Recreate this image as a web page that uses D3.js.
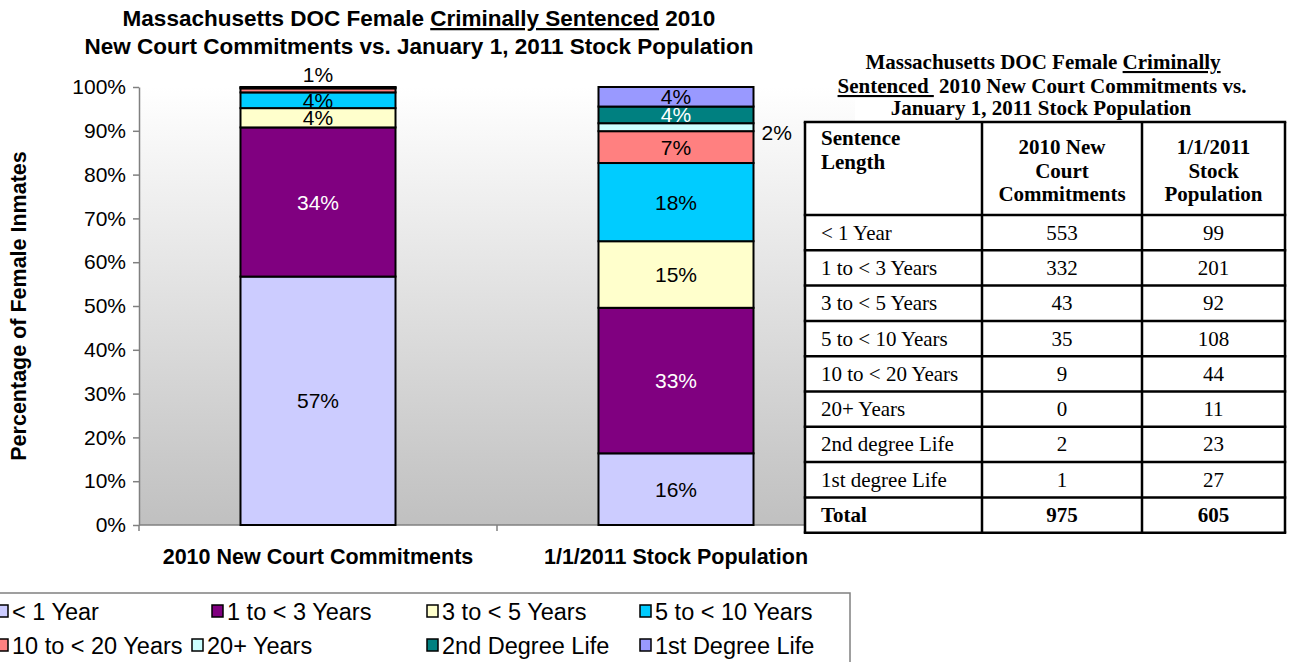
<!DOCTYPE html>
<html>
<head>
<meta charset="utf-8">
<script src="https://cdn.jsdelivr.net/npm/d3@7"></script>
<style>
    body { margin: 0; background: #fff; }
    svg { display: block; }
    text { font-family: Arial, "Liberation Sans", sans-serif; }
    .serif { font-family: "Times New Roman", "Liberation Serif", serif; }
</style>
</head>
<body>
<div id="chart"></div>
<script>
// sentence length groups (legend names / table row names)
var groups = ["< 1 Year", "1 to < 3 Years", "3 to < 5 Years", "5 to < 10 Years",
    "10 to < 20 Years", "20+ Years", "2nd Degree Life", "1st Degree Life"];
var tableRowNames = ["< 1 Year", "1 to < 3 Years", "3 to < 5 Years", "5 to < 10 Years",
    "10 to < 20 Years", "20+ Years", "2nd degree Life", "1st degree Life"];
var barNames = ["2010 New Court Commitments", "1/1/2011 Stock Population"];

// counts
var newCommitments = [553, 332, 43, 35, 9, 0, 2, 1];
var stockPopulation = [99, 201, 92, 108, 44, 11, 23, 27];

var groupColors = ["#CCCCFF", "#800080", "#FFFFCC", "#00CCFF",
    "#FF8080", "#CCFFFF", "#008080", "#9999FF"];
var labelColors = ["#000", "#fff", "#000", "#000", "#000", "#000", "#fff", "#000"];

var yTicks = [0, 0.1, 0.2, 0.3, 0.4, 0.5, 0.6, 0.7, 0.8, 0.9, 1];

var width = 1289, height = 662;
var plot = {left: 139, right: 855, top: 87, bottom: 525};

var svg = d3.select("#chart").append("svg")
    .attr("width", width)
    .attr("height", height);

// background gradient of the plot area
var defs = svg.append("defs");
var grad = defs.append("linearGradient")
    .attr("id", "bg")
    .attr("x1", 0).attr("y1", 0).attr("x2", 0).attr("y2", 1);
grad.append("stop").attr("offset", "0%").attr("stop-color", "#ffffff");
grad.append("stop").attr("offset", "100%").attr("stop-color", "#c0c0c0");

svg.append("rect")
    .attr("x", plot.left)
    .attr("y", plot.top)
    .attr("width", plot.right - plot.left)
    .attr("height", plot.bottom - plot.top)
    .style("fill", "url(#bg)");

var x = d3.scaleBand().domain(barNames).range([plot.left, plot.right]).padding(0);
var y = d3.scaleLinear().domain([0, 1]).range([plot.bottom, plot.top]);
var barW = x.bandwidth() * 0.433;

// build stacked series
var series = [newCommitments, stockPopulation].map(function(counts, bi) {
    var total = d3.sum(counts);
    var acc = 0;
    return counts.map(function(c, gi) {
        var s = {bar: barNames[bi], bi: bi, gi: gi, count: c, y0: acc / total};
        acc += c;
        s.y1 = acc / total;
        s.pct = Math.round(c / total * 100);
        return s;
    });
});
var segs = d3.merge(series);

// y axis
var yAxis = svg.append("g")
    .attr("transform", "translate(" + plot.left + ",0)")
    .call(d3.axisLeft(y).tickValues(yTicks).tickFormat(d3.format(".0%")).tickSize(6).tickSizeOuter(0).tickPadding(7));
yAxis.select(".domain").attr("stroke", "#808080").attr("stroke-width", 1.5);
yAxis.selectAll(".tick line").attr("stroke", "#808080").attr("stroke-width", 1.5);
yAxis.selectAll(".tick text")
    .style("font-family", "Arial, 'Liberation Sans', sans-serif")
    .style("font-size", "21px")
    .attr("fill", "#000");

// x axis
var xAxis = svg.append("g")
    .attr("transform", "translate(0," + plot.bottom + ")");
xAxis.append("line")
    .attr("x1", plot.left).attr("x2", plot.right)
    .attr("stroke", "#808080").attr("stroke-width", 1.5);
xAxis.selectAll(".xtick")
    .data([plot.left, x(barNames[1]), plot.right])
    .enter().append("line")
    .attr("x1", function(d) { return d; })
    .attr("x2", function(d) { return d; })
    .attr("y1", 0).attr("y2", 6)
    .attr("stroke", "#808080").attr("stroke-width", 1.5);
xAxis.selectAll(".xlabel")
    .data(barNames)
    .enter().append("text")
    .attr("x", function(d) { return x(d) + x.bandwidth() / 2; })
    .attr("y", 39)
    .attr("text-anchor", "middle")
    .style("font-weight", "bold")
    .style("font-size", "21.5px")
    .text(function(d) { return d; });

// bars
svg.append("g").selectAll("rect")
    .data(segs.filter(function(d) { return d.count > 0; }))
    .enter().append("rect")
    .attr("x", function(d) { return x(d.bar) + (x.bandwidth() - barW) / 2; })
    .attr("y", function(d) { return y(d.y1); })
    .attr("width", barW)
    .attr("height", function(d) { return y(d.y0) - y(d.y1); })
    .style("fill", function(d) { return groupColors[d.gi]; })
    .style("stroke", "#000")
    .style("stroke-width", 2);

// value labels
var labelled = segs.filter(function(d) { return d.pct > 0; });
svg.append("g").selectAll("text")
    .data(labelled)
    .enter().append("text")
    .attr("x", function(d) {
        var cx = x(d.bar) + x.bandwidth() / 2;
        if (d.bi == 1 && d.gi == 5) return cx + barW / 2 + 8;
        return cx;
    })
    .attr("y", function(d) {
        if (d.bi == 0 && d.gi == 4) return y(1) - 5;
        if (d.bi == 1 && d.gi == 5) return y((d.y0 + d.y1) / 2) + 13;
        return y((d.y0 + d.y1) / 2) + 7.5;
    })
    .attr("text-anchor", function(d) { return (d.bi == 1 && d.gi == 5) ? "start" : "middle"; })
    .style("font-size", "21px")
    .style("fill", function(d) {
        if ((d.bi == 0 && d.gi == 4) || (d.bi == 1 && d.gi == 5)) return "#000";
        return labelColors[d.gi];
    })
    .text(function(d) { return d.pct + "%"; });

// chart title
var title1 = svg.append("text")
    .attr("x", 419).attr("y", 26)
    .attr("text-anchor", "middle")
    .style("font-weight", "bold")
    .style("font-size", "22.5px");
title1.append("tspan").text("Massachusetts DOC Female ");
title1.append("tspan").attr("text-decoration", "underline").text("Criminally Sentenced");
title1.append("tspan").text(" 2010");
svg.append("text")
    .attr("x", 419).attr("y", 54)
    .attr("text-anchor", "middle")
    .style("font-weight", "bold")
    .style("font-size", "22.5px")
    .text("New Court Commitments vs. January 1, 2011 Stock Population");

// y axis title
svg.append("text")
    .attr("transform", "translate(26," + ((plot.top + plot.bottom) / 2) + ")rotate(-90)")
    .attr("text-anchor", "middle")
    .style("font-weight", "bold")
    .style("font-size", "21.5px")
    .text("Percentage of Female Inmates");

// legend
var legend = svg.append("g");
legend.append("rect")
    .attr("x", -5).attr("y", 593)
    .attr("width", 855).attr("height", 80)
    .style("fill", "#fff")
    .style("stroke", "#808080")
    .style("stroke-width", 1.5);
var legendCols = [[-3, 212, 427, 640], [-3, 192, 427, 640]];
var legendItems = legend.selectAll(".item")
    .data(groups)
    .enter().append("g")
    .attr("transform", function(d, i) {
        var row = Math.floor(i / 4), col = i % 4;
        return "translate(" + legendCols[row][col] + "," + (605 + row * 34) + ")";
    });
legendItems.append("rect")
    .attr("width", 11).attr("height", 12)
    .style("fill", function(d, i) { return groupColors[i]; })
    .style("stroke", "#000")
    .style("stroke-width", 1.5);
legendItems.append("text")
    .attr("x", 15).attr("y", 14.5)
    .style("font-size", "23.5px")
    .text(function(d) { return d; });

// data table
var table = svg.append("g").attr("class", "serif");
var tx = [805, 982, 1142, 1285];
var headTop = 122, headBottom = 215, rowH = 35.3;
var nRows = tableRowNames.length + 1;
var tFont = "21px";

var tt1 = table.append("text")
    .attr("class", "serif")
    .attr("x", 1043).attr("y", 69)
    .attr("text-anchor", "middle")
    .style("font-weight", "bold")
    .style("font-size", tFont);
tt1.append("tspan").text("Massachusetts DOC Female ");
tt1.append("tspan").attr("text-decoration", "underline").text("Criminally");
var tt2 = table.append("text")
    .attr("class", "serif")
    .attr("x", 1042).attr("y", 93)
    .attr("text-anchor", "middle")
    .style("font-weight", "bold")
    .style("font-size", tFont);
tt2.append("tspan").attr("text-decoration", "underline").text("Sentenced\u00a0");
tt2.append("tspan").text("\u00a02010 New Court Commitments vs.");
table.append("text")
    .attr("class", "serif")
    .attr("x", 1041).attr("y", 115)
    .attr("text-anchor", "middle")
    .style("font-weight", "bold")
    .style("font-size", tFont)
    .text("January 1, 2011 Stock Population");

table.append("rect")
    .attr("x", tx[0]).attr("y", headTop)
    .attr("width", tx[3] - tx[0])
    .attr("height", headBottom - headTop + nRows * rowH)
    .style("fill", "#fff");

var headers = [["Sentence", "Length"], ["2010 New", "Court", "Commitments"], ["1/1/2011", "Stock", "Population"]];
headers.forEach(function(lines, ci) {
    var ht = table.append("text")
        .attr("class", "serif")
        .attr("text-anchor", ci == 0 ? "start" : "middle")
        .style("font-weight", "bold")
        .style("font-size", tFont);
    lines.forEach(function(s, li) {
        ht.append("tspan")
            .attr("x", ci == 0 ? tx[0] + 16 : (tx[ci] + tx[ci + 1]) / 2)
            .attr("y", (ci == 0 ? 145 : 154) + li * 23.5)
            .text(s);
    });
});

var rows = tableRowNames.map(function(n, i) {
    return {name: n, a: newCommitments[i], b: stockPopulation[i], bold: false};
});
rows.push({name: "Total", a: d3.sum(newCommitments), b: d3.sum(stockPopulation), bold: true});

var rowG = table.selectAll(".row")
    .data(rows)
    .enter().append("g")
    .attr("transform", function(d, i) { return "translate(0," + (headBottom + i * rowH) + ")"; });
var cells = [
    {x: tx[0] + 16, anchor: "start", get: function(d) { return d.name; }},
    {x: (tx[1] + tx[2]) / 2, anchor: "middle", get: function(d) { return d.a; }},
    {x: (tx[2] + tx[3]) / 2, anchor: "middle", get: function(d) { return d.b; }}
];
cells.forEach(function(c) {
    rowG.append("text")
        .attr("class", "serif")
        .attr("x", c.x).attr("y", rowH / 2 + 7)
        .attr("text-anchor", c.anchor)
        .style("font-size", tFont)
        .style("font-weight", function(d) { return d.bold ? "bold" : "normal"; })
        .text(c.get);
});

// grid lines of the table
var tBottom = headBottom + nRows * rowH;
var hLines = [headTop, headBottom].concat(d3.range(1, nRows + 1).map(function(i) { return headBottom + i * rowH; }));
table.selectAll(".hl")
    .data(hLines)
    .enter().append("line")
    .attr("x1", tx[0] - 1.25).attr("x2", tx[3] + 1.25)
    .attr("y1", function(d) { return d; })
    .attr("y2", function(d) { return d; })
    .attr("stroke", "#000").attr("stroke-width", 2.5);
table.selectAll(".vl")
    .data(tx)
    .enter().append("line")
    .attr("x1", function(d) { return d; })
    .attr("x2", function(d) { return d; })
    .attr("y1", headTop).attr("y2", tBottom)
    .attr("stroke", "#000").attr("stroke-width", 2.5);
</script>
</body>
</html>
